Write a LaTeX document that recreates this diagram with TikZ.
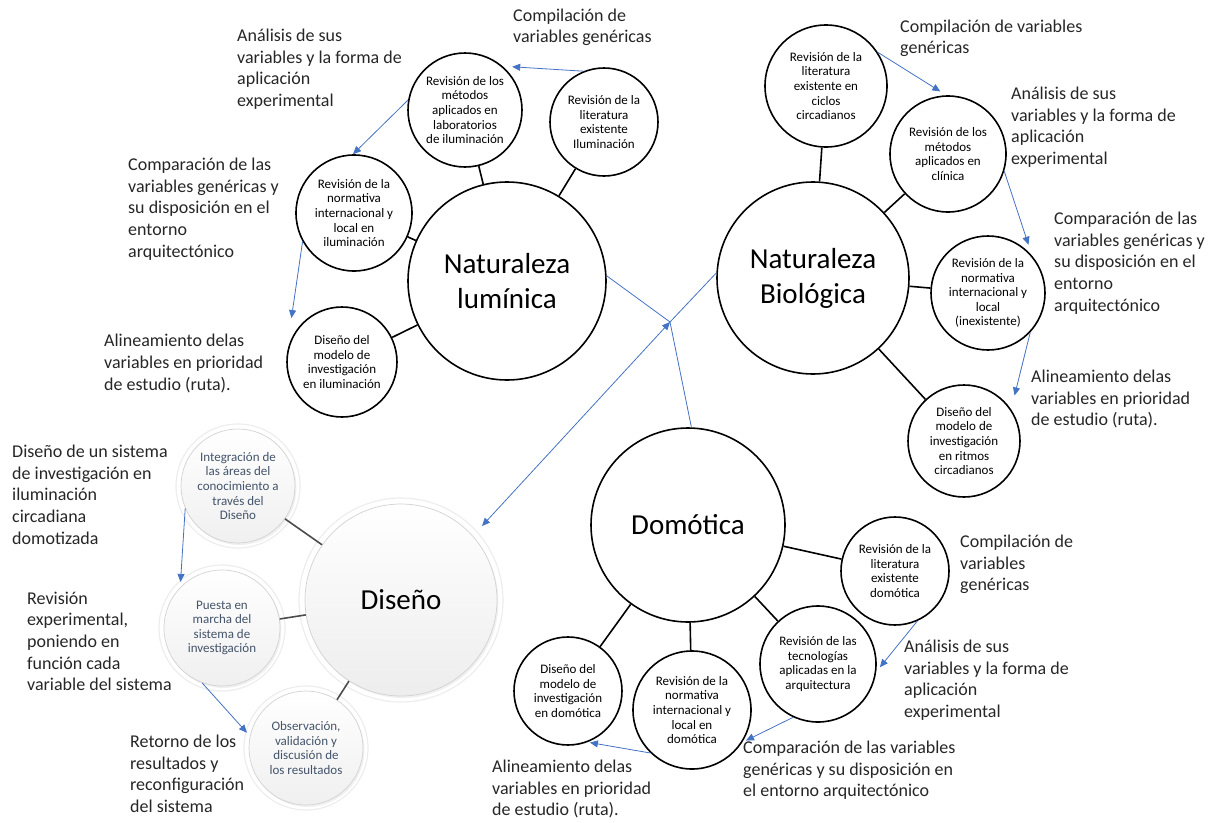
\documentclass[tikz,border=0pt]{standalone}
\usepackage{fontspec}
\setmainfont{Carlito}
\usetikzlibrary{calc,arrows.meta,shadows}
\definecolor{flowblue}{RGB}{68,114,196}
\definecolor{softtext}{RGB}{68,84,106}
\definecolor{notetext}{RGB}{38,38,38}

\begin{document}
\begin{tikzpicture}[x=1pt,y=-1pt,
  rad/.style={minimum size=2*#1pt},
  hub/.style={circle, draw=black, line width=1.6pt, fill=white, inner sep=0pt,
    align=center, font=\fontsize{29}{35}\selectfont},
  leaf/.style={circle, draw=black, line width=1.6pt, fill=white, inner sep=0pt,
    align=center, font=\fontsize{13}{14.6}\selectfont},
  softhub/.style={circle, draw=gray!35, line width=0.7pt, inner sep=0pt,
    top color=white, middle color=white, bottom color=gray!14,
    drop shadow={opacity=0.12, shadow xshift=1.5pt, shadow yshift=-2pt},
    align=center, font=\fontsize{29}{35}\selectfont},
  softleaf/.style={circle, draw=gray!35, line width=0.7pt, inner sep=0pt,
    top color=white, middle color=white, bottom color=gray!12,
    drop shadow={opacity=0.12, shadow xshift=1.5pt, shadow yshift=-2pt},
    align=center, text=softtext, font=\fontsize{13}{14.6}\selectfont},
  halo/.style={draw=gray!14, line width=1.2pt},
  link/.style={draw=black, line width=1.6pt},
  softlink/.style={draw=black!70, line width=1.6pt},
  flowline/.style={draw=flowblue, line width=0.8pt},
  flow/.style={flowline, -{Triangle[length=8pt,width=7pt]}},
  twoway/.style={flowline, {Triangle[length=8pt,width=7pt]}-{Triangle[length=8pt,width=7pt]}},
  note/.style={anchor=north west, inner sep=0pt, align=left, text=notetext,
    font=\fontsize{18}{21.7}\selectfont, execute at begin node=\strut},
]
\useasboundingbox (0,0) rectangle (1215,822);

% ---------- Naturaleza luminica ----------
\node[hub, rad=99] (lum) at (507,281) {Naturaleza\\lumínica};
\node[leaf, rad=57] (lumMet) at (465,110) {Revisión de los\\métodos\\aplicados en\\laboratorios\\de iluminación};
\node[leaf, rad=54] (lumLit) at (604,122) {Revisión de la\\literatura\\existente\\Iluminación};
\node[leaf, rad=58] (lumNor) at (354,213) {Revisión de la\\normativa\\internacional y\\local en\\iluminación};
\node[leaf, rad=55] (lumDis) at (342,362) {Diseño del\\modelo de\\investigación\\en iluminación};

% ---------- Naturaleza biologica ----------
\node[hub, rad=96] (bio) at (813,278) {Naturaleza\\Biológica};
\node[leaf, rad=61] (bioLit) at (826,86) {Revisión de la\\literatura\\existente en\\ciclos\\circadianos};
\node[leaf, rad=58] (bioMet) at (948,154) {Revisión de los\\métodos\\aplicados en\\clínica};
\node[leaf, rad=57] (bioNor) at (988,293) {Revisión de la\\normativa\\internacional y\\local\\(inexistente)};
\node[leaf, rad=56] (bioDis) at (964,441) {Diseño del\\modelo de\\investigación\\en ritmos\\circadianos};

% ---------- Domotica ----------
\node[hub, rad=97] (dom) at (688,525) {Domótica};
\node[leaf, rad=54] (domLit) at (895,571) {Revisión de la\\literatura\\existente\\domótica};
\node[leaf, rad=58] (domTec) at (818,664) {Revisión de las\\tecnologías\\aplicadas en la\\arquitectura};
\node[leaf, rad=59] (domNor) at (692,710) {Revisión de la\\normativa\\internacional y\\local en\\domótica};
\node[leaf, rad=54] (domDis) at (568,691) {Diseño del\\modelo de\\investigación\\en domótica};

% ---------- Diseno ----------
\node[softhub, rad=96] (dis) at (401,600) {Diseño};
\node[softleaf, rad=57] (disInt) at (238,486) {Integración de\\las áreas del\\conocimiento a\\través del\\Diseño};
\node[softleaf, rad=58] (disPue) at (222,628) {Puesta en\\marcha del\\sistema de\\investigación};
\node[softleaf, rad=57] (disObs) at (306,748) {Observación,\\validación y\\discusión de\\los resultados};
\draw[halo] (dis) circle (102pt);
\draw[halo] (disInt) circle (62pt);
\draw[halo] (disPue) circle (63pt);
\draw[halo] (disObs) circle (62pt);

% ---------- spokes ----------
\foreach \s in {lumMet,lumLit,lumNor,lumDis} \draw[link] (lum) -- (\s);
\foreach \s in {bioLit,bioMet,bioNor,bioDis} \draw[link] (bio) -- (\s);
\foreach \s in {domLit,domTec,domNor,domDis} \draw[link] (dom) -- (\s);
\foreach \s in {disInt,disPue,disObs} \draw[softlink] (dis) -- (\s);

% ---------- sequence arrows ----------
\draw[flow] (lumLit.112) -- ($(lumMet)+(42.5:64pt)$);
\draw[flow] (lumMet.170) -- (lumNor.91);
\draw[flow] (lumNor.209) -- ($(lumDis)+(139:67pt)$);

\draw[flow] (bioLit.33) -- ($(bioMet)+(97:63pt)$);
\draw[flow] (bioMet.-17) -- ($(bioNor)+(50:63pt)$);
\draw[flow] (bioNor.-43) -- ($(bioDis)+(42:68pt)$);

\draw[flow] (domLit.-66) -- ($(domTec)+(-3:62pt)$);
\draw[flow] (domTec.245) -- ($(domNor)+(-29.5:62pt)$);
\draw[flow] (domNor.226) -- ($(domDis)+(-67:56pt)$);

\draw[flow] (disInt.203) -- ($(disPue)+(132:62pt)$);
\draw[flow] (disPue.250) -- ($(disObs)+(165.5:61pt)$);

% ---------- central junction ----------
\coordinate (J) at (670,322);
\coordinate (disTip) at (482,526);
\draw[flowline] (lum.3.5) -- (J);
\draw[flowline] (bio.177) -- (J);
\draw[flowline] (dom.88) -- (J);
\draw[twoway] (disTip) -- (J);

% ---------- notes ----------
\node[note] (nLum1) at (513,8.6) {Compilación de\\variables genéricas};
\node[note] (nLum2) at (237,28.6) {Análisis de sus\\variables y la forma de\\aplicación\\experimental};
\node[note] (nLum3) at (128,157.6) {Comparación de las\\variables genéricas y\\su disposición en el\\entorno\\arquitectónico};
\node[note] (nLum4) at (104,334) {Alineamiento delas\\variables en prioridad\\de estudio (ruta).};

\node[note] (nBio1) at (900,19.6) {Compilación de variables\\genéricas};
\node[note] (nBio2) at (1011,86.6) {Análisis de sus\\variables y la forma de\\aplicación\\experimental};
\node[note] (nBio3) at (1054,211.6) {Comparación de las\\variables genéricas y\\su disposición en el\\entorno\\arquitectónico};
\node[note] (nBio4) at (1031,369.6) {Alineamiento delas\\variables en prioridad\\de estudio (ruta).};

\node[note] (nDom1) at (960,534.6) {Compilación de\\variables\\genéricas};
\node[note] (nDom2) at (904,639.6) {Análisis de sus\\variables y la forma de\\aplicación\\experimental};
\node[note] (nDom3) at (743,740.6) {Comparación de las variables\\genéricas y su disposición en\\el entorno arquitectónico};
\node[note] (nDom4) at (492,759.6) {Alineamiento delas\\variables en prioridad\\de estudio (ruta).};

\node[note] (nDis1) at (12,444.6) {Diseño de un sistema\\de investigación en\\iluminación\\circadiana\\domotizada};
\node[note] (nDis2) at (27,591.6) {Revisión\\experimental,\\poniendo en\\función cada\\variable del sistema};
\node[note] (nDis3) at (130,734.6) {Retorno de los\\resultados y\\reconfiguración\\del sistema};
\end{tikzpicture}
\end{document}
